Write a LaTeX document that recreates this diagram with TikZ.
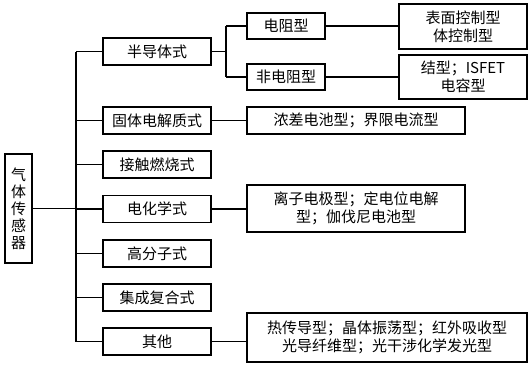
\documentclass[tikz,border=0pt]{standalone}
\usepackage{fontspec}
\setmainfont{Noto Sans CJK SC}
\begin{document}
\begin{tikzpicture}[x=1pt,y=-1pt,
  box/.style={draw=black,line width=1.6pt,inner sep=0pt,align=center,
    font=\fontsize{15}{18}\selectfont},
  conn/.style={draw=black,line width=1.2pt}]
\useasboundingbox (0,0) rectangle (529,368);
% root
\node[box,minimum width=27pt,minimum height=109pt,
  font=\fontsize{15}{17}\selectfont] (root) at (18.5,208.5) {气\\体\\传\\感\\器};
% level 1
\node[box,minimum width=108pt,minimum height=27pt] (semi)  at (157,51.5)  {半导体式};
\node[box,minimum width=108pt,minimum height=27pt] (solid) at (157,120.5) {固体电解质式};
\node[box,minimum width=108pt,minimum height=27pt] (cat)   at (157,164.5) {接触燃烧式};
\node[box,minimum width=108pt,minimum height=27pt] (ech)   at (157,209)   {电化学式};
\node[box,minimum width=108pt,minimum height=27pt] (poly)  at (157,253.5) {高分子式};
\node[box,minimum width=108pt,minimum height=27pt] (integ) at (157,297.5) {集成复合式};
\node[box,minimum width=108pt,minimum height=27pt] (other) at (157,341.5) {其他};
% level 2
\node[box,minimum width=78pt,minimum height=26pt] (res)    at (286,26) {电阻型};
\node[box,minimum width=78pt,minimum height=26pt] (nonres) at (286,77) {非电阻型};
\node[box,minimum width=218pt,minimum height=27pt] (conc) at (356,120.5) {浓差电池型；界限电流型};
\node[box,minimum width=218pt,minimum height=47pt] (ion)  at (356,208.5) {离子电极型；定电位电解\\型；伽伐尼电池型};
\node[box,minimum width=280pt,minimum height=49pt] (heat) at (387,337.5) {热传导型；晶体振荡型；红外吸收型\\光导纤维型；光干涉化学发光型};
% level 3
\node[box,minimum width=128pt,minimum height=45pt] (surf) at (463,26.5) {表面控制型\\体控制型};
\node[box,minimum width=128pt,minimum height=44pt] (junc) at (463,77) {结型；ISFET\\电容型};
% trunk
\coordinate (trT) at (76,51.5);
\coordinate (trB) at (76,341.5);
\draw[conn] (trT) -- (trB);
\draw[conn] (root.east) -- (root.east -| trT);
\foreach \n in {semi,solid,cat,ech,poly,integ,other}
  \draw[conn] (\n.west -| trT) -- (\n.west);
% semiconductor bracket
\coordinate (brT) at (226,26);
\coordinate (brB) at (226,77);
\draw[conn] (semi.east) -- (semi.east -| brT);
\draw[conn] (brT) -- (brB);
\draw[conn] (brT) -- (res.west);
\draw[conn] (brB) -- (nonres.west);
\draw[conn] (res.east) -- (surf.west |- res.east);
\draw[conn] (nonres.east) -- (junc.west |- nonres.east);
\draw[conn] (solid.east) -- (conc.west);
\draw[conn] (ech.east) -- (ion.west |- ech.east);
\draw[conn] (other.east) -- (heat.west |- other.east);
\end{tikzpicture}
\end{document}
